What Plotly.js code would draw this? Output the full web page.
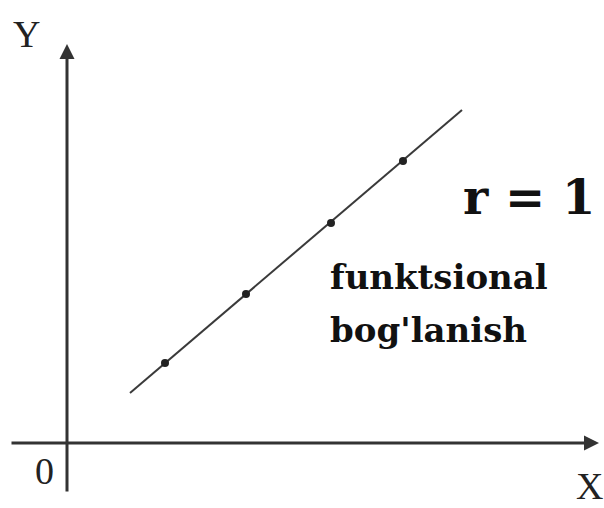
<!DOCTYPE html>
<html>
<head>
<meta charset="utf-8">
<script src="https://cdn.plot.ly/plotly-3.0.1.min.js"></script>
<style>html,body{margin:0;padding:0;background:#fff;}#chart{width:604px;height:508px;}</style>
</head>
<body>
<div id="chart"></div>
<script>
// Line of perfect correlation (r = 1)
var lineX = [6.3, 39.5];
var lineY = [5.0, 33.3];
// Observed points lying exactly on the line
var pointX = [9.8, 17.9, 26.4, 33.6];
var pointY = [8.0, 14.9, 22.0, 28.2];
// Labels
var axisLabels = {x: "X", y: "Y", origin: "0"};
var coefText = "r = 1";
var relText = ["funktsional", "bog'lanish"];

var traces = [
  {x: lineX, y: lineY, mode: "lines", line: {color: "#3a3a3a", width: 2}, hoverinfo: "skip"},
  {x: pointX, y: pointY, mode: "markers", marker: {color: "#222", size: 8}, hoverinfo: "skip"}
];

var axisFont = {family: "Liberation Serif, DejaVu Serif, serif", size: 38, color: "#222"};
var serifBold = "DejaVu Serif, Liberation Serif, serif";

var layout = {
  width: 604, height: 508,
  margin: {l: 0, r: 0, t: 0, b: 0},
  paper_bgcolor: "#fff", plot_bgcolor: "#fff",
  showlegend: false,
  xaxis: {range: [-6.7, 53.7], visible: false, fixedrange: true},
  yaxis: {range: [-6.5, 44.3], visible: false, fixedrange: true},
  annotations: [
    // X axis arrow
    {x: 53.2, y: 0, ax: -5.7, ay: 0, xref: "x", yref: "y", axref: "x", ayref: "y",
     text: "", showarrow: true, arrowhead: 2, arrowsize: 1, arrowwidth: 3, arrowcolor: "#333"},
    // Y axis arrow
    {x: 0, y: 39.9, ax: 0, ay: -5.0, xref: "x", yref: "y", axref: "x", ayref: "y",
     text: "", showarrow: true, arrowhead: 2, arrowsize: 1, arrowwidth: 3, arrowcolor: "#333"},
    {x: -4.1, y: 40.9, xref: "x", yref: "y", text: axisLabels.y, showarrow: false, font: axisFont},
    {x: 52.2, y: -4.3, xref: "x", yref: "y", text: axisLabels.x, showarrow: false, font: axisFont},
    {x: -2.3, y: -2.8, xref: "x", yref: "y", text: axisLabels.origin, showarrow: false, font: axisFont},
    {x: 39.4, y: 24.6, xref: "x", yref: "y", xanchor: "left", text: "<b>" + coefText + "</b>", showarrow: false,
     font: {family: serifBold, size: 48, color: "#111"}},
    {x: 26.1, y: 16.6, xref: "x", yref: "y", xanchor: "left", text: "<b>" + relText[0] + "</b>", showarrow: false,
     font: {family: serifBold, size: 34, color: "#111"}},
    {x: 26.1, y: 11.3, xref: "x", yref: "y", xanchor: "left", text: "<b>" + relText[1] + "</b>", showarrow: false,
     font: {family: serifBold, size: 34, color: "#111"}}
  ]
};

Plotly.newPlot("chart", traces, layout, {displayModeBar: false, staticPlot: true});
</script>
</body>
</html>
